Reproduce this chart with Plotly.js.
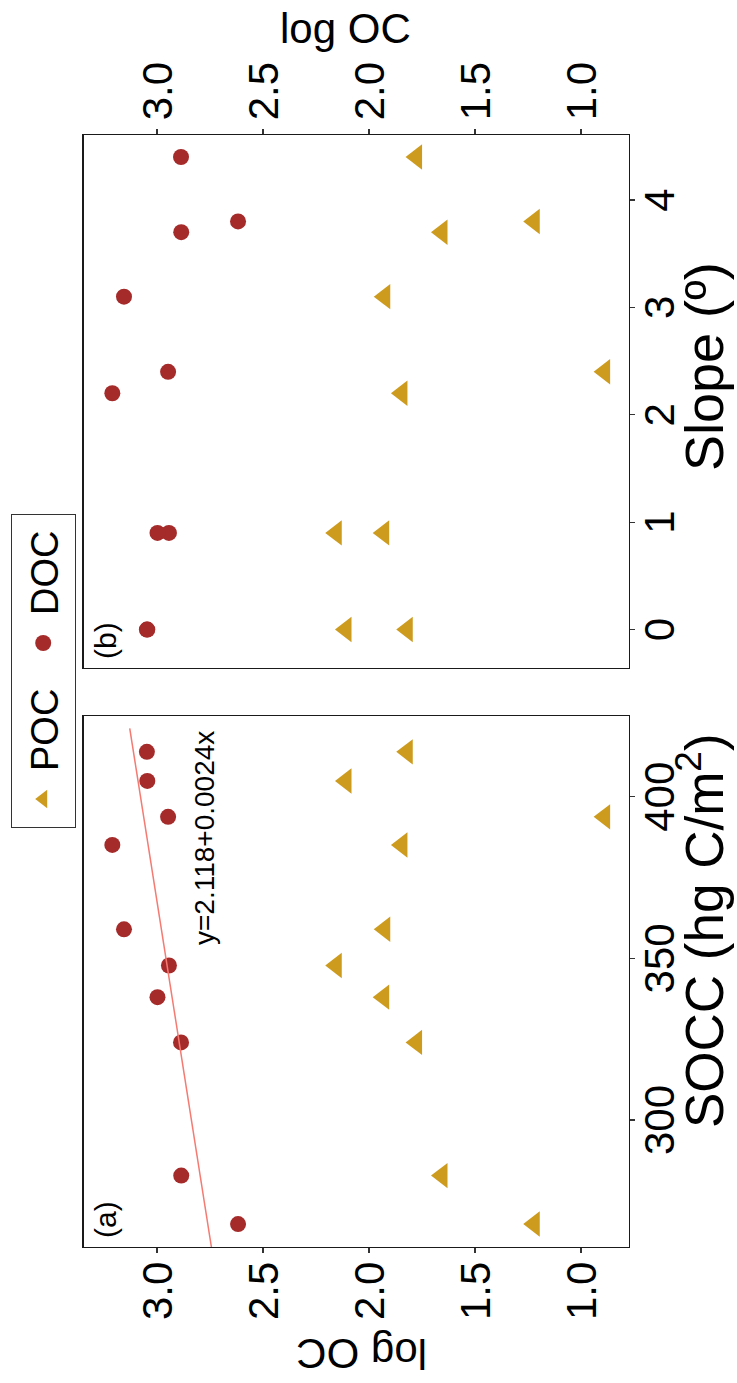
<!DOCTYPE html>
<html><head><meta charset="utf-8">
<script src="https://cdn.plot.ly/plotly-3.0.1.min.js"></script>
<style>
html,body{margin:0;padding:0;background:#fff;overflow:hidden;width:737px;height:1383px;}
#wrap{position:absolute;left:0;top:0;width:1383px;height:737px;transform-origin:0 0;transform:translate(0px,1383px) rotate(-90deg);}
</style></head><body><div id="wrap"></div><script>
// ---- data (one entry per site) ----
const socc    = [413.9, 404.9, 393.8, 385.1, 359.0, 347.8, 338.0, 324.0, 282.8, 267.8];
const slope   = [0, 0, 2.4, 2.2, 3.1, 0.9, 0.9, 4.4, 3.7, 3.8];
const logDOC  = [3.048, 3.046, 2.948, 3.211, 3.156, 2.944, 2.998, 2.887, 2.886, 2.618];
const logPOC  = [1.820, 2.109, 0.889, 1.845, 1.926, 2.155, 1.931, 1.776, 1.656, 1.221];
const fitIntercept = 2.118, fitSlope = 0.0024;
const fitX = [260.7, 421.2];
const fitY = fitX.map(v => fitIntercept + fitSlope * v);
const logTicks = [1.0, 1.5, 2.0, 2.5, 3.0];
const logTickText = ['1.0', '1.5', '2.0', '2.5', '3.0'];
const soccTicks = [300, 350, 400];
const slopeTicks = [0, 1, 2, 3, 4];

const W = 1383, H = 737;
const px = X => X / W, py = Y => 1 - Y / H;
const POCc = '#CD9B1D', DOCc = '#A52A2A';
const FONT = 'Liberation Sans, Arial, sans-serif';

const traces = [
  {x: socc, y: logPOC, xaxis: 'x', yaxis: 'y', mode: 'markers', name: 'POC', legendgroup: 'POC',
   marker: {symbol: 'triangle-up', size: 22, color: POCc}},
  {x: socc, y: logDOC, xaxis: 'x', yaxis: 'y', mode: 'markers', name: 'DOC', legendgroup: 'DOC',
   marker: {symbol: 'circle', size: 16, color: DOCc}},
  {x: fitX, y: fitY, xaxis: 'x', yaxis: 'y', mode: 'lines', showlegend: false,
   line: {color: '#F47A72', width: 1.5}},
  {x: slope, y: logPOC, xaxis: 'x2', yaxis: 'y2', mode: 'markers', name: 'POC', legendgroup: 'POC', showlegend: false,
   marker: {symbol: 'triangle-up', size: 22, color: POCc}},
  {x: slope, y: logDOC, xaxis: 'x2', yaxis: 'y2', mode: 'markers', name: 'DOC', legendgroup: 'DOC', showlegend: false,
   marker: {symbol: 'circle', size: 16, color: DOCc}}
];

const axBase = {
  showline: true, mirror: true, linecolor: '#1a1a1a', linewidth: 1.3,
  ticks: 'outside', ticklen: 5, tickwidth: 1.2, tickcolor: '#333',
  showgrid: false, zeroline: false, tickfont: {size: 42, color: '#000', family: FONT}
};
const yDom = [py(629), py(83.5)];
const layout = {
  width: W, height: H, margin: {l: 0, r: 0, t: 0, b: 0},
  paper_bgcolor: '#fff', plot_bgcolor: '#fff',
  font: {family: FONT, color: '#000'},
  showlegend: true,
  legend: {orientation: 'h', x: px(712), xanchor: 'center', y: py(11), yanchor: 'top',
    bgcolor: '#fff', bordercolor: '#333', borderwidth: 1, font: {size: 38, family: FONT, color: '#000'},
    itemwidth: 46, entrywidth: 95, entrywidthmode: 'pixels', traceorder: 'normal'},
  xaxis: Object.assign({}, axBase, {domain: [px(136), px(667)], range: [260.7, 425.0], tickvals: soccTicks, anchor: 'y', ticklabelstandoff: -12}),
  yaxis: Object.assign({}, axBase, {domain: yDom, range: [0.774, 3.347], tickvals: logTicks, ticktext: logTickText, anchor: 'x'}),
  xaxis2: Object.assign({}, axBase, {domain: [px(715), px(1248)], range: [-0.358, 4.605], tickvals: slopeTicks, anchor: 'y2', ticklabelstandoff: -12}),
  yaxis2: Object.assign({}, axBase, {domain: yDom, range: [0.774, 3.347], tickvals: logTicks, ticktext: logTickText, anchor: 'x2', side: 'right'}),
  annotations: [
    {text: 'SOCC (hg C/m<sup>2</sup>)', xref: 'paper', yref: 'paper', x: px(452), y: 0.001, xanchor: 'center', yanchor: 'bottom', showarrow: false, font: {size: 53}},
    {text: 'Slope (º)', xref: 'paper', yref: 'paper', x: px(1016), y: 0.001, xanchor: 'center', yanchor: 'bottom', showarrow: false, font: {size: 54}},
    {text: 'log OC', xref: 'paper', yref: 'paper', x: px(29), y: py(362), xanchor: 'center', yanchor: 'middle', textangle: -90, showarrow: false, font: {size: 42}},
    {text: 'log OC', xref: 'paper', yref: 'paper', x: px(1355), y: py(345), xanchor: 'center', yanchor: 'middle', textangle: 90, showarrow: false, font: {size: 42}},
    {text: '(a)', xref: 'paper', yref: 'paper', x: px(143), y: py(87), xanchor: 'left', yanchor: 'top', showarrow: false, font: {size: 30}},
    {text: '(b)', xref: 'paper', yref: 'paper', x: px(722), y: py(87), xanchor: 'left', yanchor: 'top', showarrow: false, font: {size: 30}},
    {text: 'y=2.118+0.0024x', xref: 'paper', yref: 'paper', x: px(545), y: py(205), xanchor: 'center', yanchor: 'middle', showarrow: false, font: {size: 28}}
  ]
};
Plotly.newPlot('wrap', traces, layout, {displayModeBar: false, staticPlot: true});
</script></body></html>
